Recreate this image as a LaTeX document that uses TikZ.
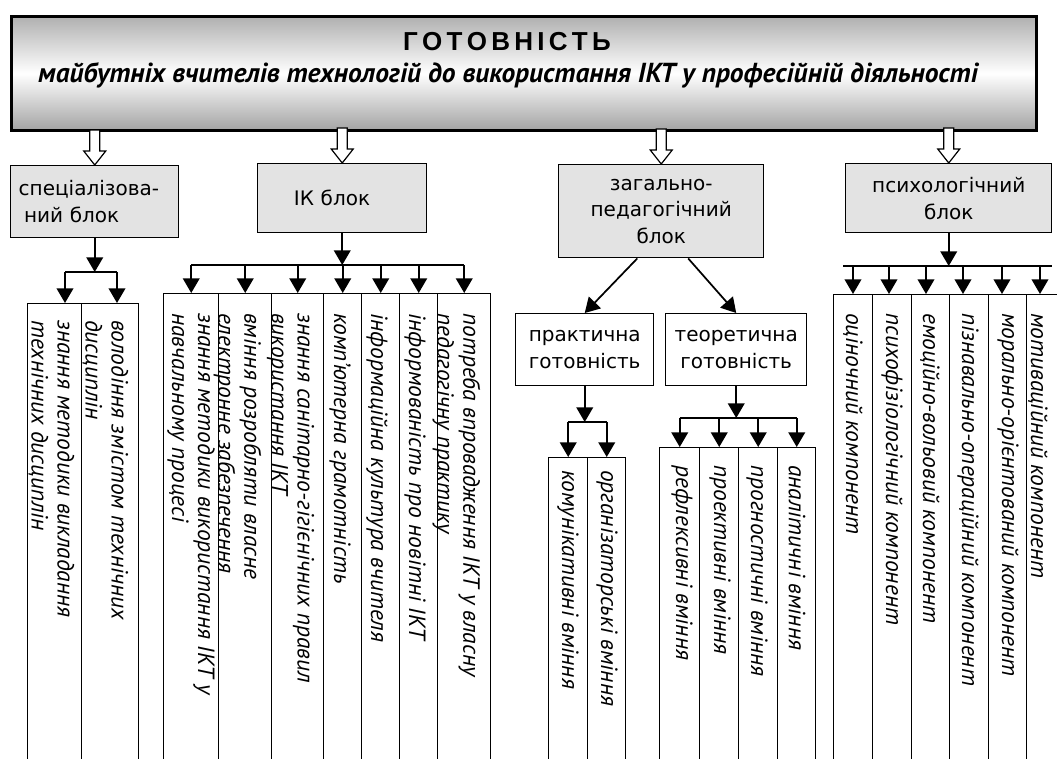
\documentclass[tikz,border=0pt]{standalone}
\usepackage{fontspec}
\setmainfont{DejaVu Sans}
\newfontfamily\lblfont{DejaVu Sans}
\newfontfamily\itfont{PT Sans}
\newfontfamily\ttlfont{Liberation Sans}
\usetikzlibrary{arrows.meta,calc}
\newcommand\pxu{0.75pt}
\newcommand\rotfont{\itfont\itshape\fontsize{17.6}{19.5}\selectfont}
\newcommand\spc{\kern3.2pt}
\tikzset{
  topbox/.style={draw=black, line width=2.2pt, top color=gray!62, bottom color=gray!72, middle color=white, anchor=north west, inner sep=0pt},
  blockbox/.style={draw=black, line width=1.1pt, fill=gray!22, anchor=north west, inner sep=0pt, font=\lblfont\fontsize{15}{20}\selectfont},
  subbox/.style={blockbox, fill=white},
  colbox/.style={draw=black, line width=1.1pt, fill=white, anchor=north west, inner sep=0pt},
  rtext/.style={rotate=-90, anchor=west, inner sep=0pt, align=left, font=\rotfont},
  arr/.style={draw=black, line width=1.3pt, -{Triangle[length=11pt,width=12.5pt]}},
  bus/.style={draw=black, line width=1.3pt},
  hollow/.style={draw=black, line width=0.9pt, fill=white},
}
\begin{document}
\begin{tikzpicture}[x=0.75pt,y=-0.75pt]
\useasboundingbox (0,0) rectangle (1057,758);
\clip (0,0) rectangle (1057,758);
\fill[white] (0,0) rectangle (1057,758);

% top box
\node[topbox, minimum width={1025*\pxu}, minimum height={114*\pxu}] (top) at (10,15) {};
\node[inner sep=0pt, font=\ttlfont\bfseries\fontsize{19.5}{22}\selectfont] (title) at (507,42)
  {Г\spc О\spc Т\spc О\spc В\spc Н\spc І\spc С\spc Т\spc Ь};
\node[inner sep=0pt, font=\itfont\bfseries\itshape\fontsize{20.6}{22}\selectfont] (subt) at (508,75)
  {майбутніх вчителів технологій до використання ІКТ у професійній діяльності};

% blocks
\node[blockbox, minimum width={168*\pxu}, minimum height={72*\pxu}, align=left, text width={152*\pxu}] (spec) at (10,165)
  {спеціалізова-\\\hspace*{4pt}ний блок};
\node[blockbox, minimum width={169*\pxu}, minimum height={69*\pxu}, align=left, text width={150*\pxu}] (ik) at (257,163)
  {\hspace*{20pt}ІК блок};
\node[blockbox, minimum width={205*\pxu}, minimum height={93*\pxu}, align=center] (zag) at (558,164)
  {загально-\\педагогічний\\блок};
\node[blockbox, minimum width={206*\pxu}, minimum height={69*\pxu}, align=center] (psy) at (845,163)
  {психологічний\\блок};
\node[subbox, minimum width={138*\pxu}, minimum height={72*\pxu}, align=center] (prak) at (515,313)
  {практична\\готовність};
\node[subbox, minimum width={141*\pxu}, minimum height={72*\pxu}, align=center] (teor) at (665,313)
  {теоретична\\готовність};

% hollow arrows from the top box
\foreach \b in {spec,ik,zag,psy}
  \draw[hollow] (\b.north) -- ++(-11,-14) -- ++(6,0) -- ++(0,-21) -- ++(10,0) -- ++(0,21) -- ++(6,0) -- cycle;

% columns
\foreach \n/\a/\b in {cA/27/81, cB/81/138}
  \node[colbox, minimum width={(\b-\a)*\pxu}, minimum height={(780-303)*\pxu}] (\n) at (\a,303) {};
\foreach \n/\a/\b in {i1/163/218, i2/218/271, i3/271/323, i4/323/361, i5/361/399, i6/399/437, i7/437/490}
  \node[colbox, minimum width={(\b-\a)*\pxu}, minimum height={(780-293)*\pxu}] (\n) at (\a,293) {};
\foreach \n/\a/\b in {p1/548/587, p2/587/625}
  \node[colbox, minimum width={(\b-\a)*\pxu}, minimum height={(780-457)*\pxu}] (\n) at (\a,457) {};
\foreach \n/\a/\b in {t1/659/699, t2/699/738, t3/738/777, t4/777/815}
  \node[colbox, minimum width={(\b-\a)*\pxu}, minimum height={(780-447)*\pxu}] (\n) at (\a,447) {};
\foreach \n/\a/\b in {s1/833/872, s2/872/911, s3/911/949, s4/949/988, s5/988/1026, s6/1026/1075}
  \node[colbox, minimum width={(\b-\a)*\pxu}, minimum height={(780-294)*\pxu}] (\n) at (\a,294) {};

% specialised block connectors
\coordinate (sL) at (65,272);
\coordinate (sR) at (117,272);
\draw[arr] (spec.south) -- (spec.south |- sL);
\draw[bus] (sL) -- (sR);
\draw[arr] (sL) -- (sL |- cA.north);
\draw[arr] (sR) -- (sR |- cB.north);

% IK block connectors
\coordinate (ikbus) at (0,265);
\draw[arr] (ik.south) -- (ik.south |- ikbus);
\draw[bus] (i1.north |- ikbus) -- (i7.north |- ikbus);
\foreach \c in {i1,i2,i3,i4,i5,i6,i7}
  \draw[arr] (\c.north |- ikbus) -- (\c.north);

% general pedagogical block
\draw[arr] ($(zag.south)+(-24,0)$) -- (prak.north);
\draw[arr] ($(zag.south)+(27,0)$) -- (teor.north);
\coordinate (pbus) at (0,422);
\draw[arr] (prak.south) -- (prak.south |- pbus);
\draw[bus] (p1.north |- pbus) -- (p2.north |- pbus);
\foreach \c in {p1,p2}
  \draw[arr] (\c.north |- pbus) -- (\c.north);
\coordinate (tbus) at (0,418);
\draw[arr] (teor.south) -- (teor.south |- tbus);
\draw[bus] (t1.north |- tbus) -- (t4.north |- tbus);
\foreach \c in {t1,t2,t3,t4}
  \draw[arr] (\c.north |- tbus) -- (\c.north);

% psychological block
\coordinate (yL) at (843,266);
\coordinate (yR) at (1052,266);
\draw[arr] (psy.south) -- (psy.south |- yL);
\draw[bus] (yL) -- (yR);
\foreach \x/\c in {853/s1, 889/s2, 926/s3, 963/s4, 1002/s5, 1040/s6}
  \draw[arr] (\x,266) -- (\x,266 |- \c.north);

% rotated texts
\node[rtext] (tA) at (51.5,320) {знання методики викладання\\технічних дисциплін};
\node[rtext] (tB) at (105.5,320) {володіння змістом технічних\\дисциплін};
\node[rtext] (ti1) at (191,313) {знання методики використання ІКТ у\\навчальному процесі};
\node[rtext] (ti2) at (237.5,313) {вміння розробляти власне\\електронне забезпечення};
\node[rtext] (ti3) at (290.5,313) {знання санітарно-гігієнічних правил\\використання ІКТ};
\node[rtext] (ti4) at (340,313) {комп’ютерна грамотність};
\node[rtext] (ti5) at (377,313) {інформаційна культура вчителя};
\node[rtext] (ti6) at (415,313) {інформованість про новітні ІКТ};
\node[rtext] (ti7) at (456.5,313) {потреба впровадження ІКТ у власну\\педагогічну практику};
\node[rtext] (tp1) at (568,470) {комунікативні вміння};
\node[rtext] (tp2) at (607,470) {організаторські вміння};
\node[rtext] (tt1) at (682,465) {рефлексивні вміння};
\node[rtext] (tt2) at (720,465) {проективні вміння};
\node[rtext] (tt3) at (757,465) {прогностичні вміння};
\node[rtext] (tt4) at (797,465) {аналітичні вміння};
\node[rtext] (ts1) at (853,313) {оціночний компонент};
\node[rtext] (ts2) at (892,313) {психофізіологічний компонент};
\node[rtext] (ts3) at (930,313) {емоційно-вольовий компонент};
\node[rtext] (ts4) at (968,313) {пізнавально-операційний компонент};
\node[rtext] (ts5) at (1008,313) {морально-орієнтований компонент};
\node[rtext] (ts6) at (1038,313) {мотиваційний компонент};
\end{tikzpicture}
\end{document}
